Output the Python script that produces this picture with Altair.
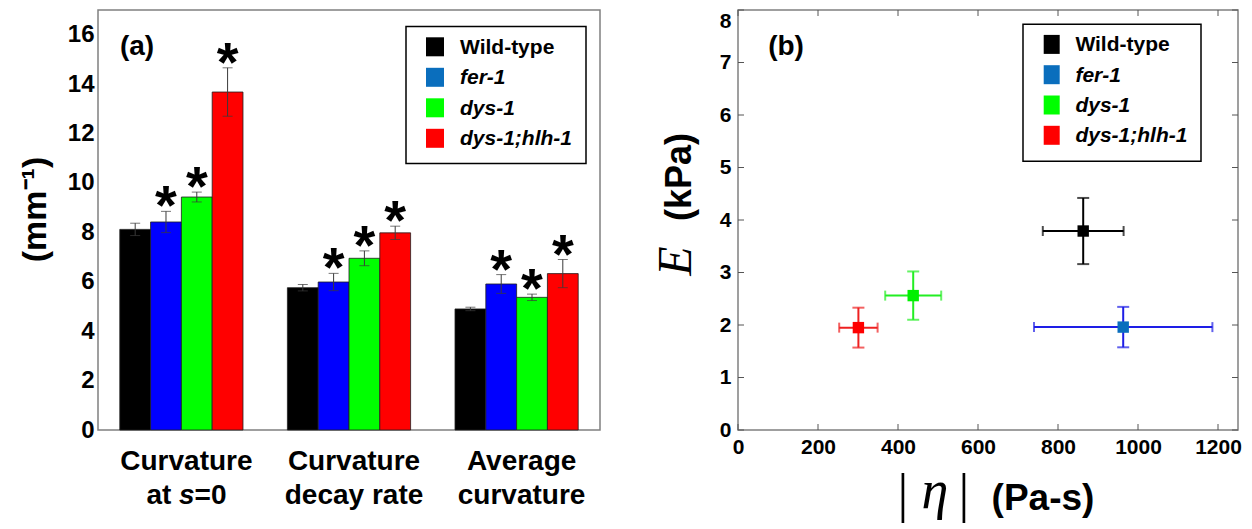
import altair as alt
import pandas as pd

# ---------------- data ----------------
genotypes = ["Wild-type", "fer-1", "dys-1", "dys-1;hlh-1"]
categories = ["Curvature at s=0", "Curvature decay rate", "Average curvature"]
label_line1 = ["Curvature", "Curvature", "Average"]
label_line2 = ["at s=0", "decay rate", "curvature"]

curv_s0 = [8.12, 8.42, 9.43, 13.68]
curv_s0_err = [0.25, 0.43, 0.20, 0.98]
decay_rate = [5.76, 5.99, 6.95, 7.98]
decay_rate_err = [0.13, 0.35, 0.30, 0.27]
avg_curv = [4.90, 5.91, 5.37, 6.33]
avg_curv_err = [0.07, 0.38, 0.13, 0.57]
significant = [False, True, True, True]
y_ticks_a = [0, 2, 4, 6, 8, 10, 12, 14, 16]

eta = [863, 963, 438, 301]
eta_err = [101, 223, 70, 48]
E_mod = [3.79, 1.96, 2.56, 1.95]
E_err = [0.63, 0.385, 0.46, 0.38]
x_ticks_b = [0, 200, 400, 600, 800, 1000, 1200]
y_ticks_b = [0, 1, 2, 3, 4, 5, 6, 7, 8]

bar_colors = ["#000000", "#0000FF", "#00FF00", "#FF0000"]
legend_colors = ["#000000", "#0A6EBD", "#00FF00", "#FF0000"]
marker_colors = ["#000000", "#0A6EBD", "#00F000", "#FF0000"]
err_colors = ["#000000", "#1E1EE6", "#22EE22", "#EE2020"]

# ---------------- tables ----------------
rows = []
for cat, vals, errs in zip(categories, [curv_s0, decay_rate, avg_curv],
                           [curv_s0_err, decay_rate_err, avg_curv_err]):
    for g, v, e, s in zip(genotypes, vals, errs, significant):
        rows.append({"cat": cat, "g": g, "val": v, "lo": v - e, "hi": v + e, "sig": s})
df_bars = pd.DataFrame(rows)
df_lab = pd.DataFrame({"cat": categories, "l1": label_line1, "l2": label_line2})

df_pts = pd.DataFrame({
    "g": genotypes,
    "eta": eta,
    "eta_lo": [a - b for a, b in zip(eta, eta_err)],
    "eta_hi": [a + b for a, b in zip(eta, eta_err)],
    "E": E_mod,
    "E_lo": [a - b for a, b in zip(E_mod, E_err)],
    "E_hi": [a + b for a, b in zip(E_mod, E_err)],
})
df_xt = pd.DataFrame({"v": x_ticks_b})
df_yt = pd.DataFrame({"v": y_ticks_b})
one = pd.DataFrame({"k": [0]})

FONT = "Liberation Sans"
SERIF = "Liberation Serif"


def legend_layers(x0, y0, w, h, sq_x, sq_w, sq_h, lab_x, first_y, step):
    """Framed legend box drawn inside a plot area (pixel offsets are styling)."""
    parts = [alt.Chart(one).mark_rect(fill="white", stroke="black", strokeWidth=1.5).encode(
        x=alt.value(x0), x2=alt.value(x0 + w), y=alt.value(y0), y2=alt.value(y0 + h))]
    for i, (name, col) in enumerate(zip(genotypes, legend_colors)):
        cy = first_y + i * step
        parts.append(alt.Chart(one).mark_rect(fill=col).encode(
            x=alt.value(sq_x), x2=alt.value(sq_x + sq_w),
            y=alt.value(cy - sq_h / 2), y2=alt.value(cy + sq_h / 2)))
        parts.append(alt.Chart(one).mark_text(
            text=name, font=FONT, fontSize=21, fontWeight="bold",
            fontStyle="normal" if i == 0 else "italic",
            align="left", baseline="middle", color="black").encode(
            x=alt.value(lab_x), y=alt.value(cy + 1)))
    return parts


# ---------------- panel (a) ----------------
W_A, H_A = 502, 420
x_a = alt.X("cat:N", sort=categories,
            scale=alt.Scale(domain=categories, paddingInner=0.265, paddingOuter=0.13),
            axis=None)
xo_a = alt.XOffset("g:N", sort=genotypes,
                   scale=alt.Scale(domain=genotypes, paddingInner=0, paddingOuter=0))
ys_a = alt.Scale(domain=[0, 17], nice=False)
y_axis_a = alt.Axis(values=y_ticks_a, ticks=False, domain=False, grid=False,
                    labelFont=FONT, labelFontSize=24, labelFontWeight="bold",
                    labelColor="black", labelPadding=4,
                    title="(mm⁻¹)", titleFont=FONT, titleFontSize=34,
                    titleFontWeight="bold", titleColor="black",
                    titleX=-63, titleY=199, titleBaseline="middle", titleAngle=270)


def ya(field):
    return alt.Y(field, scale=ys_a, axis=y_axis_a)


bars = alt.Chart(df_bars).mark_bar(stroke="#202020", strokeWidth=0.8).encode(
    x=x_a, xOffset=xo_a, y=ya("val:Q"),
    color=alt.Color("g:N", sort=genotypes,
                    scale=alt.Scale(domain=genotypes, range=bar_colors), legend=None),
)
err_a = alt.Chart(df_bars).mark_rule(color="#3a3a3a", strokeWidth=1).encode(
    x=x_a, xOffset=xo_a, y=ya("lo:Q"), y2="hi:Q")
cap_hi_a = alt.Chart(df_bars).mark_tick(color="#3a3a3a", thickness=1, size=10).encode(
    x=x_a, xOffset=xo_a, y=ya("hi:Q"))
cap_lo_a = alt.Chart(df_bars).mark_tick(color="#3a3a3a", thickness=1, size=10).encode(
    x=x_a, xOffset=xo_a, y=ya("lo:Q"))
stars = alt.Chart(df_bars).transform_filter("datum.sig").mark_text(
    text="*", font=FONT, fontSize=56, fontWeight="bold", baseline="alphabetic",
    dy=13, color="black").encode(x=x_a, xOffset=xo_a, y=ya("hi:Q"))

txt = dict(font=FONT, fontSize=28, fontWeight="bold", color="black", baseline="middle")
lab1 = alt.Chart(df_lab).mark_text(dx=5, **txt).encode(x=x_a, y=alt.value(452), text="l1:N")
lab2 = alt.Chart(df_lab).transform_filter(
    alt.FieldOneOfPredicate(field="cat", oneOf=categories[1:])
).mark_text(dx=5, **txt).encode(x=x_a, y=alt.value(485.5), text="l2:N")
first = df_lab[df_lab["cat"] == categories[0]]
at_txt = alt.Chart(first).mark_text(text="at", align="left", dx=-35, **txt).encode(
    x=x_a, y=alt.value(485.5))
s_txt = alt.Chart(first).mark_text(text="s", align="left", dx=-2.4, fontStyle="italic",
                                   **txt).encode(x=x_a, y=alt.value(485.5))
eq_txt = alt.Chart(first).mark_text(text="=0", align="left", dx=13.2, **txt).encode(
    x=x_a, y=alt.value(485.5))

tag_a = alt.Chart(pd.DataFrame({"t": ["(a)"]})).mark_text(
    font=FONT, fontSize=28, fontWeight="bold", color="black", baseline="middle").encode(
    text="t:N", x=alt.value(39), y=alt.value(37.4))

legend_a = legend_layers(x0=308, y0=16.6, w=180, h=137, sq_x=328, sq_w=18, sq_h=19,
                         lab_x=362, first_y=36.8, step=30.5)

chart_a = alt.layer(bars, err_a, cap_hi_a, cap_lo_a, stars, lab1, lab2,
                    at_txt, s_txt, eq_txt, tag_a, *legend_a).properties(width=W_A, height=H_A)

# ---------------- panel (b) ----------------
W_B, H_B = 500, 420
xs_b = alt.Scale(domain=[0, 1250], nice=False, zero=False)
ys_b = alt.Scale(domain=[0, 8], nice=False, zero=False)
x_axis_b = alt.Axis(values=x_ticks_b, ticks=False, domain=False, grid=False, format="d",
                    labelFont=FONT, labelFontSize=21, labelFontWeight="bold",
                    labelColor="black", labelPadding=6, labelFlush=False,
                    labelOverlap=False, title=None)
y_axis_b = alt.Axis(values=y_ticks_b, ticks=False, domain=False, grid=False, format="d",
                    labelFont=FONT, labelFontSize=21, labelFontWeight="bold",
                    labelColor="black", labelPadding=7, labelFlush=False,
                    labelOverlap=False, title=None,
                    labelBaseline={"condition": {"test": "datum.value == 8", "value": "top"},
                                   "value": "middle"})


def xb(field):
    return alt.X(field, scale=xs_b, axis=x_axis_b)


def yb(field):
    return alt.Y(field, scale=ys_b, axis=y_axis_b)


tick_col = "#555555"
t_bottom = alt.Chart(df_xt).mark_rule(color=tick_col, strokeWidth=1).encode(
    x=xb("v:Q"), y=alt.value(H_B), y2=alt.value(H_B - 6))
t_top = alt.Chart(df_xt).mark_rule(color=tick_col, strokeWidth=1).encode(
    x=xb("v:Q"), y=alt.value(0), y2=alt.value(6))
t_left = alt.Chart(df_yt).mark_rule(color=tick_col, strokeWidth=1).encode(
    y=yb("v:Q"), x=alt.value(0), x2=alt.value(6))
t_right = alt.Chart(df_yt).mark_rule(color=tick_col, strokeWidth=1).encode(
    y=yb("v:Q"), x=alt.value(W_B), x2=alt.value(W_B - 6))

err_stroke = alt.Stroke("g:N", sort=genotypes,
                        scale=alt.Scale(domain=genotypes, range=err_colors), legend=None)
err_fill = alt.Fill("g:N", sort=genotypes,
                    scale=alt.Scale(domain=genotypes, range=err_colors), legend=None)

v_err = alt.Chart(df_pts).mark_rule(strokeWidth=2).encode(
    x=xb("eta:Q"), y=yb("E_lo:Q"), y2="E_hi:Q", stroke=err_stroke)
h_err = alt.Chart(df_pts).mark_rule(strokeWidth=2).encode(
    y=yb("E:Q"), x=xb("eta_lo:Q"), x2="eta_hi:Q", stroke=err_stroke)
cap_v = []
for fld in ["E_lo", "E_hi"]:
    cap_v.append(alt.Chart(df_pts).mark_tick(orient="horizontal", size=12, thickness=2).encode(
        x=xb("eta:Q"), y=yb(f"{fld}:Q"), fill=err_fill))
cap_h = []
for fld in ["eta_lo", "eta_hi"]:
    cap_h.append(alt.Chart(df_pts).mark_tick(orient="vertical", size=10, thickness=2).encode(
        x=xb(f"{fld}:Q"), y=yb("E:Q"), fill=err_fill))

squares = alt.Chart(df_pts).mark_square(size=130, opacity=1).encode(
    x=xb("eta:Q"), y=yb("E:Q"),
    color=alt.Color("g:N", sort=genotypes,
                    scale=alt.Scale(domain=genotypes, range=marker_colors), legend=None),
)

tag_b = alt.Chart(pd.DataFrame({"t": ["(b)"]})).mark_text(
    font=FONT, fontSize=28, fontWeight="bold", color="black", baseline="middle").encode(
    text="t:N", x=alt.value(48), y=alt.value(37.4))

e_title = alt.Chart(one).mark_text(text="E", font=SERIF, fontStyle="italic", fontSize=48,
                                   angle=270, baseline="middle", color="black").encode(
    x=alt.value(-61), y=alt.value(251))
kpa_title = alt.Chart(one).mark_text(text="(kPa)", font=FONT, fontWeight="bold", fontSize=36,
                                     angle=270, baseline="middle", color="black").encode(
    x=alt.value(-58), y=alt.value(167))
bar1 = alt.Chart(one).mark_text(text="|", font=SERIF, fontSize=54, baseline="middle",
                                color="black").encode(x=alt.value(165), y=alt.value(484.7))
eta_t = alt.Chart(one).mark_text(text="η", font=SERIF, fontStyle="italic", fontSize=54,
                                 baseline="middle", color="black").encode(
    x=alt.value(197), y=alt.value(482))
bar2 = alt.Chart(one).mark_text(text="|", font=SERIF, fontSize=54, baseline="middle",
                                color="black").encode(x=alt.value(226), y=alt.value(484.7))
pas_t = alt.Chart(one).mark_text(text="(Pa-s)", font=FONT, fontWeight="bold", fontSize=37,
                                 baseline="middle", color="black").encode(
    x=alt.value(305), y=alt.value(488.5))

legend_b = legend_layers(x0=285, y0=14.2, w=178, h=137, sq_x=305.7, sq_w=16, sq_h=19,
                         lab_x=337.4, first_y=34.4, step=30.3)

chart_b = alt.layer(t_bottom, t_top, t_left, t_right, v_err, h_err, *cap_v, *cap_h,
                    squares, tag_b, e_title, kpa_title, bar1, eta_t, bar2, pas_t, *legend_b
                    ).properties(width=W_B, height=H_B)

chart = alt.hconcat(chart_a, chart_b, spacing=138, bounds="flush").resolve_scale(
    color="independent", fill="independent", stroke="independent"
).properties(
    padding={"left": 9, "top": 0, "right": 0, "bottom": 0},
    background="white",
).configure_view(stroke="#808080", strokeWidth=1.5)

chart.save("out.html", embed_options={"renderer": "svg", "actions": False})
